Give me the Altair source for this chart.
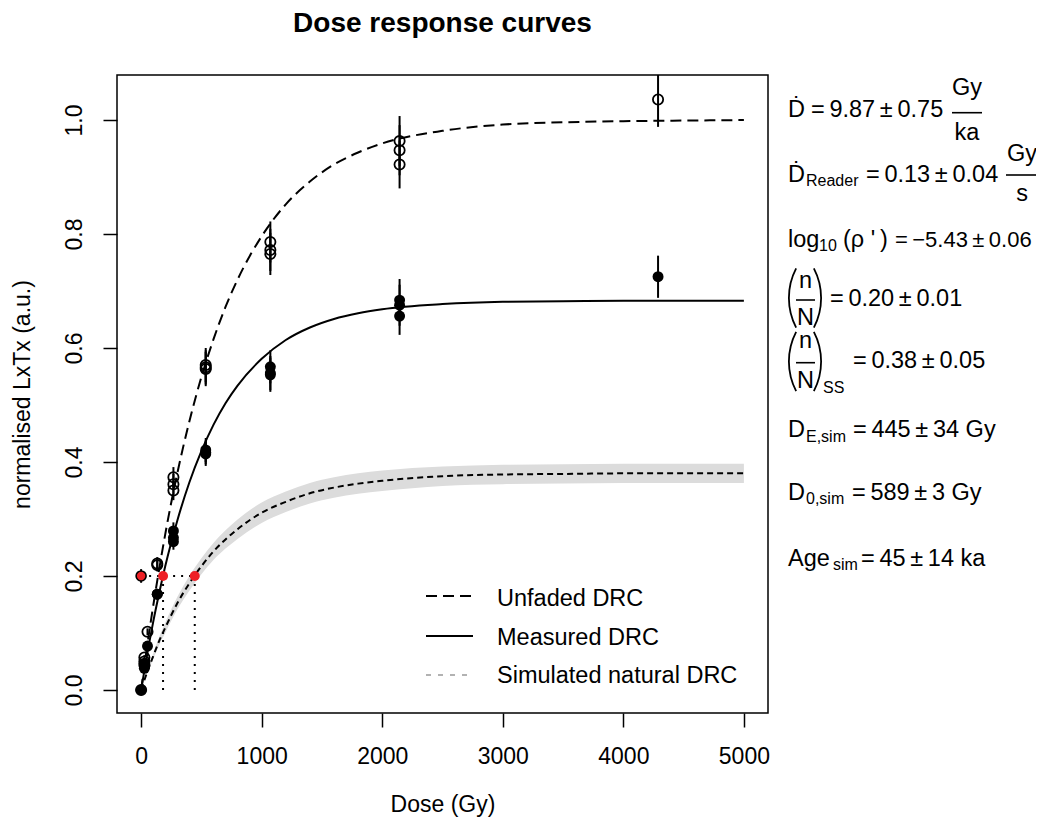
import math
import altair as alt
import pandas as pd

FONT = "Liberation Sans"

# ---------------- data ----------------
dose = [0, 27, 27, 27, 53, 134, 134, 268, 268, 268, 536, 536, 536,
        1072, 1072, 1072, 2144, 2144, 2144, 4288]
unfaded_lxtx = [0.0, 0.057, 0.050, 0.044, 0.102, 0.222, 0.219, 0.373, 0.361, 0.350,
                0.570, 0.566, 0.563, 0.786, 0.772, 0.765, 0.963, 0.947, 0.922, 1.036]
unfaded_err = [0.003, 0.004, 0.004, 0.004, 0.006, 0.011, 0.011, 0.018, 0.018, 0.017,
               0.030, 0.030, 0.030, 0.036, 0.037, 0.037, 0.044, 0.044, 0.042, 0.048]
measured_lxtx = [0.0, 0.047, 0.042, 0.038, 0.077, 0.168, 0.168, 0.279, 0.267, 0.260,
                 0.421, 0.417, 0.414, 0.567, 0.556, 0.553, 0.684, 0.675, 0.656, 0.725]
measured_err = [0.002, 0.003, 0.003, 0.003, 0.005, 0.009, 0.009, 0.015, 0.014, 0.014,
                0.021, 0.021, 0.021, 0.029, 0.030, 0.030, 0.037, 0.036, 0.033, 0.037]

curve_dose = [0, 50, 100, 150, 200, 300, 400, 500, 600, 700, 800, 1000, 1200, 1400,
              1600, 1800, 2000, 2500, 3000, 3500, 4000, 4500, 5000]
unfaded_curve = [0, 0.077, 0.147, 0.212, 0.273, 0.380, 0.471, 0.549, 0.615, 0.672, 0.720,
                 0.796, 0.852, 0.892, 0.922, 0.943, 0.959, 0.981, 0.992, 0.996, 0.998, 0.999, 1.000]
measured_curve = [0, 0.062, 0.119, 0.170, 0.217, 0.297, 0.364, 0.419, 0.465, 0.503, 0.534,
                  0.581, 0.614, 0.636, 0.651, 0.661, 0.668, 0.677, 0.681, 0.682, 0.683, 0.683, 0.683]
sim_curve = [0, 0.031, 0.059, 0.086, 0.109, 0.152, 0.187, 0.217, 0.243, 0.264, 0.282,
             0.311, 0.330, 0.345, 0.355, 0.362, 0.367, 0.375, 0.378, 0.379, 0.380, 0.380, 0.380]
sim_band = [0, 0.003, 0.005, 0.007, 0.009, 0.011, 0.013, 0.014, 0.015, 0.016, 0.017,
            0.018, 0.018, 0.018, 0.018, 0.018, 0.018, 0.017, 0.017, 0.017, 0.017, 0.017, 0.017]

natural_lxtx = 0.2
natural_err = 0.012
de_measured = 182
de_sim = 445

chart_title = "Dose response curves"
legend_labels = ["Unfaded DRC", "Measured DRC", "Simulated natural DRC"]

# ---------------- tables ----------------
pts = pd.DataFrame({
    "dose": dose,
    "unf": unfaded_lxtx,
    "unf_lo": [v - e for v, e in zip(unfaded_lxtx, unfaded_err)],
    "unf_hi": [v + e for v, e in zip(unfaded_lxtx, unfaded_err)],
    "mea": measured_lxtx,
    "mea_lo": [v - e for v, e in zip(measured_lxtx, measured_err)],
    "mea_hi": [v + e for v, e in zip(measured_lxtx, measured_err)],
})
curves = pd.DataFrame({
    "dose": curve_dose,
    "unf": unfaded_curve,
    "mea": measured_curve,
    "sim": sim_curve,
    "sim_lo": [v - b for v, b in zip(sim_curve, sim_band)],
    "sim_hi": [v + b for v, b in zip(sim_curve, sim_band)],
})
nat = pd.DataFrame({"dose": [0], "lx": [natural_lxtx],
                    "lo": [natural_lxtx - natural_err], "hi": [natural_lxtx + natural_err]})
red = pd.DataFrame({"dose": [0, de_measured, de_sim], "lx": [natural_lxtx] * 3})
hline = pd.DataFrame({"x1": [0], "x2": [de_sim], "y": [natural_lxtx]})
vlines = pd.DataFrame({"x": [de_measured, de_sim], "y1": [0, 0], "y2": [natural_lxtx] * 2})

xs = alt.Scale(domain=[-200, 5200], nice=False, zero=False)
ys = alt.Scale(domain=[-0.0405, 1.079], nice=False, zero=False)
x_axis = alt.Axis(values=[0, 1000, 2000, 3000, 4000, 5000], format="d", labelPadding=18,
                  titleX=325.5, titleY=91, titleAlign="center", titleBaseline="middle")
y_axis = alt.Axis(values=[0, 0.2, 0.4, 0.6, 0.8, 1.0], format=".1f", labelAngle=270,
                  labelAlign="center", labelBaseline="bottom", labelPadding=17,
                  titleX=-95, titleY=319, titleAngle=270, titleAlign="center",
                  titleBaseline="middle")


def X(f):
    return alt.X(f, type="quantitative", scale=xs, axis=x_axis, title="Dose (Gy)")


def Y(f):
    return alt.Y(f, type="quantitative", scale=ys, axis=y_axis, title="normalised LxTx (a.u.)")


band = alt.Chart(curves).mark_area(color="#dcdcdc", interpolate="monotone").encode(
    x=X("dose"), y=Y("sim_lo"), y2="sim_hi")
sim_line = alt.Chart(curves).mark_line(color="black", strokeWidth=2, strokeDash=[6, 4],
                                       interpolate="monotone").encode(x=X("dose"), y=Y("sim"))
unf_line = alt.Chart(curves).mark_line(color="black", strokeWidth=2, strokeDash=[11, 6],
                                       interpolate="monotone").encode(x=X("dose"), y=Y("unf"))
mea_line = alt.Chart(curves).mark_line(color="black", strokeWidth=2,
                                       interpolate="monotone").encode(x=X("dose"), y=Y("mea"))

dot_h = alt.Chart(hline).mark_rule(color="black", strokeWidth=2, strokeDash=[2, 6]).encode(
    x=X("x1"), x2="x2", y=Y("y"))
dot_v = alt.Chart(vlines).mark_rule(color="black", strokeWidth=2, strokeDash=[2, 6]).encode(
    x=X("x"), y=Y("y1"), y2="y2")

unf_err = alt.Chart(pts).mark_rule(color="black", strokeWidth=2, clip=True).encode(
    x=X("dose"), y=Y("unf_lo"), y2="unf_hi")
mea_err = alt.Chart(pts).mark_rule(color="black", strokeWidth=2, clip=True).encode(
    x=X("dose"), y=Y("mea_lo"), y2="mea_hi")
unf_pts = alt.Chart(pts).mark_point(shape="circle", filled=False, color="black", size=105,
                                    strokeWidth=1.8, opacity=1).encode(x=X("dose"), y=Y("unf"))
mea_pts = alt.Chart(pts).mark_circle(color="black", size=120, opacity=1).encode(
    x=X("dose"), y=Y("mea"))

nat_err = alt.Chart(nat).mark_rule(color="black", strokeWidth=2).encode(
    x=X("dose"), y=Y("lo"), y2="hi")
red_pts = alt.Chart(red).mark_circle(color="#ee2026", size=100, opacity=1).encode(
    x=X("dose"), y=Y("lx"))
nat_pt = alt.Chart(nat).mark_point(shape="circle", filled=False, color="black", size=100,
                                   strokeWidth=1.6, opacity=1).encode(x=X("dose"), y=Y("lx"))

# ---------------- annotations (pixel layout) ----------------
OX, OY = 117, 75
dummy = pd.DataFrame({"k": [0]})
TS = "\u2009"  # thin space, as in plotmath


def txt(s, x, y, size=23.5, align="left", weight="normal"):
    return alt.Chart(dummy).mark_text(text=s, font=FONT, fontSize=size, align=align,
                                      baseline="alphabetic", color="black",
                                      fontWeight=weight).encode(
        x=alt.value(x - OX), y=alt.value(y - OY))


def hrule(x1, x2, y, width=1.6, dash=None, color="black"):
    kw = dict(color=color, strokeWidth=width)
    if dash:
        kw["strokeDash"] = dash
    return alt.Chart(dummy).mark_rule(**kw).encode(
        x=alt.value(x1 - OX), x2=alt.value(x2 - OX), y=alt.value(y - OY))


def paren(x_edge, yc, left=True, r=65.0, half=27.5):
    if left:
        xc = x_edge + r
        t1, t2 = 270 - half, 270 + half
    else:
        xc = x_edge - r
        t1, t2 = 90 - half, 90 + half
    return alt.Chart(dummy).mark_arc(radius=r, radius2=r - 1.8, theta=math.radians(t1),
                                     theta2=math.radians(t2), color="black").encode(
        x=alt.value(xc - OX), y=alt.value(yc - OY))


def pm(a, b, unit=""):
    s = "=" + TS + a + TS + "±" + TS + b
    if unit:
        s += " " + unit
    return s


ann = [
    # title
    txt(chart_title, 442.5, 31.5, size=28, align="center", weight="bold"),
    # legend
    hrule(426, 473, 596, width=2, dash=[11, 6]),
    hrule(426, 473, 636, width=2),
    hrule(426, 473, 675, width=1.5, dash=[5, 7], color="#999999"),
    txt(legend_labels[0], 497, 606),
    txt(legend_labels[1], 497, 645),
    txt(legend_labels[2], 497, 683),
    # line 1
    txt("Ḋ", 788, 117), txt(pm("9.87", "0.75"), 811, 117),
    txt("Gy", 967, 95, align="center"), hrule(952, 982, 112.7), txt("ka", 967, 140, align="center"),
    # line 2
    txt("Ḋ", 788, 182), txt("Reader", 806, 186, size=16), txt(pm("0.13", "0.04"), 866, 182),
    txt("Gy", 1022, 161, align="center"), hrule(1006, 1038, 175), txt("s", 1022, 201, align="center"),
    # line 3
    txt("log", 788, 247), txt("10", 819, 251, size=16), txt("(ρ '" + TS + ")", 843, 247),
    txt("=" + TS + "−5.43" + TS + "±" + TS + "0.06", 895, 247, size=22),
    # line 4
    paren(788, 298, True), paren(822, 298, False),
    txt("n", 805.5, 288, align="center"), hrule(796, 815, 300), txt("N", 805.5, 325, align="center"),
    txt(pm("0.20", "0.01"), 830, 306),
    # line 5
    paren(788, 361.5, True), paren(822, 361.5, False),
    txt("n", 805.5, 348, align="center"), hrule(796, 815, 362.7), txt("N", 805.5, 388, align="center"),
    txt("SS", 823, 393, size=16), txt(pm("0.38", "0.05"), 853, 368),
    # line 6
    txt("D", 788, 437), txt("E,sim", 806, 442, size=16), txt(pm("445", "34", "Gy"), 853, 437),
    # line 7
    txt("D", 788, 500), txt("0,sim", 806, 504, size=16), txt(pm("589", "3", "Gy"), 852, 500),
    # line 8
    txt("Age", 788, 566), txt("sim", 833, 570, size=16), txt(pm("45", "14", "ka"), 861, 566),
]

chart = alt.layer(
    band, sim_line, unf_line, mea_line, dot_h, dot_v,
    unf_err, mea_err, unf_pts, mea_pts, nat_err, red_pts, nat_pt,
    *ann
).properties(
    width=651, height=638,
    padding={"left": 109, "top": 67, "right": 268, "bottom": 104},
    autosize=alt.AutoSizeParams(type="none"),
).configure_view(
    stroke="black", strokeWidth=1.5
).configure_axis(
    grid=False, domain=False, tickColor="black", tickWidth=1.5, tickSize=14,
    labelColor="black", labelFont=FONT, labelFontSize=23,
    titleFont=FONT, titleFontSize=23, titleColor="black", titleFontWeight="normal"
)

chart.save("out.html", embed_options={"renderer": "svg", "actions": False})
